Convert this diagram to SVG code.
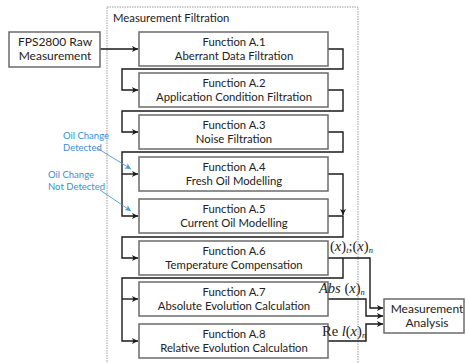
<svg xmlns="http://www.w3.org/2000/svg" width="466" height="363" viewBox="0 0 466 363">
<style>
.box{fill:#fff;stroke:#6b6b6b;stroke-width:1.5}
.t{font-family:Lato,"Liberation Sans",sans-serif;font-size:11.3px;fill:#222;text-anchor:middle}
.c{fill:none;stroke:#1a1a1a;stroke-width:1.4}
.b{fill:none;stroke:#4a9ad8;stroke-width:0.9}
.bl{font-family:Lato,"Liberation Sans",sans-serif;font-size:9.5px;fill:#3a8ed4}
.m{font-family:"Liberation Serif",serif;font-size:14.5px;fill:#222}
.s{font-size:8.5px;font-style:italic}
</style>
<defs>
<marker id="ar" markerWidth="8" markerHeight="8" refX="6" refY="4" orient="auto" markerUnits="userSpaceOnUse">
<path d="M0,1 L6,4 L0,7 L1.5,4 Z" fill="#1a1a1a"/>
</marker>
<marker id="ab" markerWidth="8" markerHeight="8" refX="6" refY="4" orient="auto" markerUnits="userSpaceOnUse">
<path d="M0,1 L6,4 L0,7 L1.5,4 Z" fill="#4a9ad8"/>
</marker>
</defs>
<rect id="container" x="107" y="7" width="251" height="370" fill="none" stroke="#9a9a9a" stroke-width="1" stroke-dasharray="1.5,1"/>
<text x="113" y="22" class="t" style="text-anchor:start;font-size:11.3px">Measurement Filtration</text>
<g id="connectors">
<path class="c" d="M100,49 H138" marker-end="url(#ar)"/>
<path class="c" d="M328,49 H343 V69 H122 V90 H138" marker-end="url(#ar)"/>
<path class="c" d="M328,90 H343 V111 H122 V132 H138" marker-end="url(#ar)"/>
<path class="c" d="M328,132 H343 V152 H122 V216 H138" marker-end="url(#ar)"/>
<path class="c" d="M122,174 H138" marker-end="url(#ar)"/>
<path class="c" d="M328,174 H343 V215" marker-end="url(#ar)"/>
<path class="c" d="M328,216 H343 V237 H122 V258 H138" marker-end="url(#ar)"/>
<path class="c" d="M343,258 V278 H122 V341 H138" marker-end="url(#ar)"/>
<path class="c" d="M122,299 H138" marker-end="url(#ar)"/>
<path class="c" d="M328,258 H370 V308 H383" marker-end="url(#ar)"/>
<path class="c" d="M328,299 H366 V316 H383" marker-end="url(#ar)"/>
<path class="c" d="M328,341 H366 V324 H383" marker-end="url(#ar)"/>
<path class="b" d="M97,148 L131,169" marker-end="url(#ab)"/>
<path class="b" d="M100,190 L131,211" marker-end="url(#ab)"/>
</g>
<g id="fps"><rect class="box" x="9" y="32" width="91" height="35"/><text class="t" x="55" y="46" style="font-size:12px">FPS2800 Raw</text><text class="t" x="55" y="60" style="font-size:12px">Measurement</text></g>
<g id="a1"><rect class="box" x="139" y="32" width="189" height="34"/><text class="t" x="234" y="46">Function A.1</text><text class="t" x="234" y="60">Aberrant Data Filtration</text></g>
<g id="a2"><rect class="box" x="139" y="73" width="189" height="34"/><text class="t" x="234" y="87">Function A.2</text><text class="t" x="234" y="101">Application Condition Filtration</text></g>
<g id="a3"><rect class="box" x="139" y="115" width="189" height="34"/><text class="t" x="234" y="129">Function A.3</text><text class="t" x="234" y="143">Noise Filtration</text></g>
<g id="a4"><rect class="box" x="139" y="157" width="189" height="34"/><text class="t" x="234" y="171">Function A.4</text><text class="t" x="234" y="185">Fresh Oil Modelling</text></g>
<g id="a5"><rect class="box" x="139" y="199" width="189" height="34"/><text class="t" x="234" y="213">Function A.5</text><text class="t" x="234" y="227">Current Oil Modelling</text></g>
<g id="a6"><rect class="box" x="139" y="241" width="189" height="34"/><text class="t" x="234" y="255">Function A.6</text><text class="t" x="234" y="269">Temperature Compensation</text></g>
<g id="a7"><rect class="box" x="139" y="282" width="189" height="34"/><text class="t" x="234" y="296">Function A.7</text><text class="t" x="234" y="310">Absolute Evolution Calculation</text></g>
<g id="a8"><rect class="box" x="139" y="324" width="189" height="34"/><text class="t" x="234" y="338">Function A.8</text><text class="t" x="234" y="352">Relative Evolution Calculation</text></g>
<g id="ma"><rect class="box" x="384" y="299" width="80" height="34"/><text class="t" x="427" y="313" style="font-size:12px">Measurement</text><text class="t" x="427" y="327" style="font-size:12px">Analysis</text></g>
<g id="labels">
<text class="bl" x="63" y="139">Oil Change</text><text class="bl" x="63" y="151">Detected</text>
<text class="bl" x="48" y="178">Oil Change</text><text class="bl" x="48" y="190">Not Detected</text>
<text class="m" x="330" y="251">(<tspan font-style="italic">x</tspan>)<tspan class="s" dy="2">t</tspan><tspan dy="-2">;(</tspan><tspan font-style="italic">x</tspan>)<tspan class="s" dy="2">n</tspan></text>
<text class="m" x="319" y="293"><tspan font-style="italic">Abs</tspan> (<tspan font-style="italic">x</tspan>)<tspan class="s" dy="2">n</tspan></text>
<text class="m" x="322" y="336">Re <tspan font-style="italic">l</tspan>(<tspan font-style="italic">x</tspan>)<tspan class="s" dy="2">n</tspan></text>
</g>
</svg>
